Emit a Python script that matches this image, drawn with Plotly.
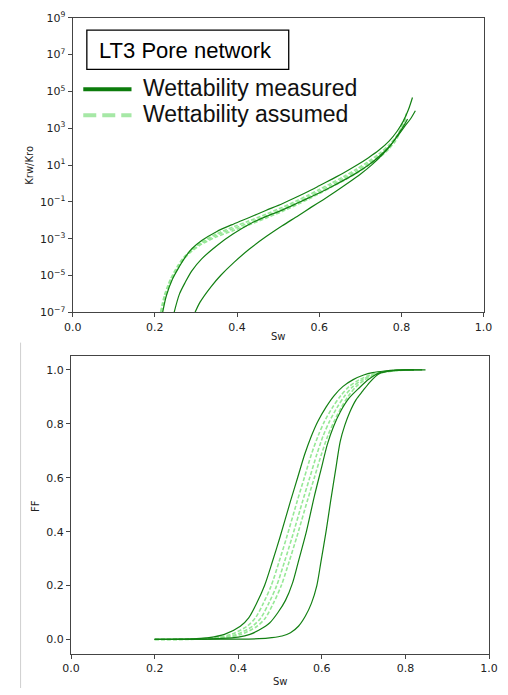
import plotly.graph_objects as go

# ---------------- data: top panel (Krw/Kro, given as log10 exponents) ----------------
sw_m1 = [0.219, 0.228, 0.243, 0.26, 0.274, 0.29, 0.314, 0.35, 0.392, 0.43, 0.47, 0.51, 0.549, 0.573, 0.60, 0.63, 0.66, 0.69, 0.72, 0.745, 0.77, 0.79, 0.805, 0.817, 0.827]
lg_m1 = [-7.0, -6.1, -5.19, -4.5, -4.0, -3.55, -3.1, -2.62, -2.2, -1.85, -1.47, -1.1, -0.7, -0.44, -0.13, 0.22, 0.58, 0.97, 1.4, 1.8, 2.3, 2.85, 3.4, 4.0, 4.67]
sw_m2 = [0.247, 0.26, 0.274, 0.29, 0.314, 0.353, 0.39, 0.431, 0.47, 0.51, 0.549, 0.573, 0.60, 0.63, 0.66, 0.69, 0.72, 0.745, 0.77, 0.79, 0.808, 0.822, 0.834]
lg_m2 = [-7.0, -6.0, -5.37, -4.75, -4.1, -3.34, -2.75, -2.2, -1.8, -1.45, -1.05, -0.8, -0.52, -0.18, 0.18, 0.56, 1.0, 1.45, 2.0, 2.55, 3.1, 3.5, 3.95]
sw_m3 = [0.298, 0.31, 0.337, 0.36, 0.392, 0.431, 0.47, 0.51, 0.549, 0.58, 0.61, 0.64, 0.67, 0.70, 0.73, 0.755, 0.775, 0.79, 0.805, 0.815]
lg_m3 = [-7.0, -6.45, -5.6, -5.0, -4.3, -3.55, -2.9, -2.3, -1.75, -1.3, -0.88, -0.44, 0.02, 0.5, 1.05, 1.6, 2.1, 2.6, 3.1, 3.5]

sw_a1 = [0.214, 0.223, 0.238, 0.255, 0.27, 0.29, 0.314, 0.35, 0.392, 0.43, 0.47, 0.51, 0.549, 0.573, 0.60, 0.63, 0.66, 0.69, 0.72, 0.745, 0.77, 0.79, 0.803, 0.812]
lg_a1 = [-7.0, -6.1, -5.2, -4.5, -4.02, -3.6, -3.18, -2.74, -2.35, -2.03, -1.67, -1.3, -0.9, -0.64, -0.33, 0.02, 0.38, 0.77, 1.2, 1.6, 2.1, 2.62, 3.2, 3.8]
sw_a2 = [0.216, 0.225, 0.24, 0.257, 0.272, 0.29, 0.314, 0.35, 0.392, 0.43, 0.47, 0.51, 0.549, 0.573, 0.60, 0.63, 0.66, 0.69, 0.72, 0.745, 0.77, 0.787, 0.80, 0.81]
lg_a2 = [-7.0, -6.15, -5.25, -4.55, -4.08, -3.68, -3.3, -2.9, -2.55, -2.25, -1.89, -1.52, -1.12, -0.86, -0.55, -0.2, 0.16, 0.55, 0.98, 1.38, 1.88, 2.35, 2.95, 3.5]
sw_a3 = [0.215, 0.224, 0.239, 0.256, 0.271, 0.29, 0.314, 0.35, 0.392, 0.43, 0.47, 0.51, 0.549, 0.573, 0.60, 0.63, 0.66, 0.69, 0.72, 0.745, 0.77, 0.789, 0.802, 0.811]
lg_a3 = [-7.0, -6.12, -5.22, -4.52, -4.05, -3.64, -3.24, -2.82, -2.45, -2.14, -1.77, -1.4, -1.0, -0.74, -0.43, -0.08, 0.28, 0.67, 1.1, 1.5, 2.0, 2.5, 3.1, 3.7]

# ---------------- data: bottom panel (FF) ----------------
sw_f1 = [0.20, 0.26, 0.30, 0.33, 0.367, 0.405, 0.425, 0.444, 0.463, 0.482, 0.50, 0.525, 0.542, 0.559, 0.575, 0.59, 0.61, 0.629, 0.65, 0.675, 0.70, 0.721, 0.75, 0.78, 0.82]
ff_f1 = [0.0, 0.001, 0.003, 0.007, 0.019, 0.049, 0.08, 0.134, 0.20, 0.29, 0.38, 0.513, 0.60, 0.687, 0.755, 0.808, 0.862, 0.904, 0.938, 0.964, 0.981, 0.99, 0.996, 0.999, 1.0]
sw_f2 = [0.20, 0.30, 0.36, 0.40, 0.428, 0.45, 0.475, 0.495, 0.513, 0.53, 0.544, 0.563, 0.582, 0.598, 0.613, 0.628, 0.644, 0.665, 0.69, 0.712, 0.736, 0.76, 0.80, 0.84]
ff_f2 = [0.0, 0.001, 0.004, 0.009, 0.019, 0.035, 0.061, 0.10, 0.145, 0.21, 0.29, 0.40, 0.531, 0.63, 0.723, 0.79, 0.844, 0.895, 0.934, 0.965, 0.988, 0.996, 1.0, 1.0]
sw_f3 = [0.20, 0.40, 0.45, 0.48, 0.505, 0.525, 0.544, 0.56, 0.575, 0.588, 0.598, 0.61, 0.621, 0.633, 0.644, 0.655, 0.667, 0.682, 0.698, 0.715, 0.736, 0.76, 0.80, 0.848]
ff_f3 = [0.0, 0.001, 0.003, 0.007, 0.013, 0.025, 0.049, 0.085, 0.134, 0.20, 0.29, 0.40, 0.513, 0.63, 0.735, 0.795, 0.844, 0.89, 0.922, 0.955, 0.985, 0.995, 1.0, 1.0]

sw_fa = [0.20, 0.30, 0.35, 0.383, 0.421, 0.441, 0.46, 0.479, 0.498, 0.516, 0.541, 0.558, 0.575, 0.591, 0.606, 0.626, 0.645, 0.665, 0.69, 0.715, 0.735, 0.76, 0.79, 0.82]
ff_fa = [0.0, 0.002, 0.008, 0.019, 0.049, 0.08, 0.134, 0.20, 0.29, 0.38, 0.513, 0.60, 0.687, 0.755, 0.808, 0.862, 0.904, 0.938, 0.964, 0.981, 0.99, 0.996, 0.999, 1.0]
sw_fb = [0.20, 0.30, 0.36, 0.396, 0.434, 0.454, 0.473, 0.492, 0.511, 0.529, 0.554, 0.571, 0.588, 0.603, 0.618, 0.637, 0.655, 0.674, 0.697, 0.72, 0.74, 0.765, 0.79, 0.82]
ff_fb = [0.0, 0.0015, 0.008, 0.019, 0.049, 0.08, 0.134, 0.20, 0.29, 0.38, 0.513, 0.60, 0.687, 0.755, 0.808, 0.862, 0.904, 0.938, 0.964, 0.981, 0.99, 0.996, 0.999, 1.0]
sw_fc = [0.20, 0.30, 0.37, 0.407, 0.445, 0.465, 0.484, 0.503, 0.522, 0.54, 0.565, 0.582, 0.599, 0.614, 0.629, 0.647, 0.664, 0.682, 0.703, 0.725, 0.745, 0.77, 0.795, 0.82]
ff_fc = [0.0, 0.001, 0.008, 0.019, 0.049, 0.08, 0.134, 0.20, 0.29, 0.38, 0.513, 0.60, 0.687, 0.755, 0.808, 0.862, 0.904, 0.938, 0.964, 0.981, 0.99, 0.996, 0.999, 1.0]

x_ticks = [0.0, 0.2, 0.4, 0.6, 0.8, 1.0]
krw_exps = [-7, -5, -3, -1, 1, 3, 5, 7, 9]
ff_ticks = [0.0, 0.2, 0.4, 0.6, 0.8, 1.0]

DARK = "#138013"
LIGHT = "#97e897"
AX = "#444444"
TICKFONT = dict(family="DejaVu Sans", size=11, color="#222222")

fig = go.Figure()

measured_top = [(sw_m1, lg_m1), (sw_m2, lg_m2), (sw_m3, lg_m3)]
assumed_top = [(sw_a1, lg_a1), (sw_a2, lg_a2), (sw_a3, lg_a3)]
for sw, lg in assumed_top:
    fig.add_trace(go.Scatter(x=sw, y=[10 ** v for v in lg], mode="lines", xaxis="x", yaxis="y",
                             line=dict(color=LIGHT, width=1.6, dash="4px,2px", shape="spline", smoothing=0.8),
                             showlegend=False, hoverinfo="skip"))
for sw, lg in measured_top:
    fig.add_trace(go.Scatter(x=sw, y=[10 ** v for v in lg], mode="lines", xaxis="x", yaxis="y",
                             line=dict(color=DARK, width=1.2, shape="spline", smoothing=0.8),
                             showlegend=False, hoverinfo="skip"))

assumed_bot = [(sw_fa, ff_fa), (sw_fb, ff_fb), (sw_fc, ff_fc)]
measured_bot = [(sw_f1, ff_f1), (sw_f2, ff_f2), (sw_f3, ff_f3)]
for sw, ff in assumed_bot:
    fig.add_trace(go.Scatter(x=sw, y=ff, mode="lines", xaxis="x2", yaxis="y2",
                             line=dict(color=LIGHT, width=1.6, dash="4px,2px", shape="spline", smoothing=0.8),
                             showlegend=False, hoverinfo="skip"))
for sw, ff in measured_bot:
    fig.add_trace(go.Scatter(x=sw, y=ff, mode="lines", xaxis="x2", yaxis="y2",
                             line=dict(color=DARK, width=1.2, shape="spline", smoothing=0.8),
                             showlegend=False, hoverinfo="skip"))

W, H = 508, 695
def px(x):
    return x / W
def py(y):
    return 1 - y / H

axis_common = dict(showline=True, linecolor=AX, linewidth=1.3, mirror=True, showgrid=False, zeroline=False,
                   ticks="outside", ticklen=4, tickwidth=1, tickcolor=AX, tickfont=TICKFONT)

fig.update_layout(
    width=W, height=H, margin=dict(l=0, r=0, t=0, b=0),
    paper_bgcolor="white", plot_bgcolor="white", showlegend=False,
    xaxis=dict(domain=[px(66), px(492)], range=[0, 1], tickvals=x_ticks, tickformat=".1f",
               anchor="y", **axis_common),
    yaxis=dict(domain=[py(311), py(10)], type="log", range=[-7, 9],
               tickvals=[10 ** e for e in krw_exps],
               ticktext=["10<sup>%s</sup>" % (str(e).replace("-", "\u2212")) for e in krw_exps],
               anchor="x", **axis_common),
    xaxis2=dict(domain=[px(64.3), px(497.7)], range=[0, 1], tickvals=x_ticks, tickformat=".1f",
                anchor="y2", **axis_common),
    yaxis2=dict(domain=[py(660), py(355.3)], range=[-0.053, 1.053], tickvals=ff_ticks, tickformat=".1f",
                anchor="x2", **axis_common),
)

shapes = [
    dict(type="rect", xref="paper", yref="paper", x0=px(80.7), x1=px(290), y0=py(62.7), y1=py(22.7),
         line=dict(color="black", width=1.3), fillcolor="white"),
    dict(type="line", xref="paper", yref="paper", x0=px(77), x1=px(127), y0=py(83), y1=py(83),
         line=dict(color="#0c7c0c", width=4)),
    dict(type="line", xref="paper", yref="paper", x0=px(77), x1=px(127), y0=py(109.5), y1=py(109.5),
         line=dict(color="#a6e8a6", width=4, dash="13px,6px")),
    dict(type="line", xref="paper", yref="paper", x0=px(12), x1=px(12), y0=py(342), y1=0,
         line=dict(color="#cfcfcf", width=1)),
]
fig.update_layout(shapes=shapes)

ann = [
    dict(text="LT3 Pore network", x=px(91), y=py(43), xanchor="left", yanchor="middle",
         font=dict(family="Liberation Sans", size=22, color="black")),
    dict(text="Wettability measured", x=px(137), y=py(82), xanchor="left", yanchor="middle",
         font=dict(family="Liberation Sans", size=23, color="#111111")),
    dict(text="Wettability assumed", x=px(137), y=py(108), xanchor="left", yanchor="middle",
         font=dict(family="Liberation Sans", size=23, color="#111111")),
    dict(text="Sw", x=px(279), y=py(336), xanchor="center", yanchor="middle",
         font=dict(family="DejaVu Sans", size=10, color="#222222")),
    dict(text="Sw", x=px(281), y=py(688), xanchor="center", yanchor="middle",
         font=dict(family="DejaVu Sans", size=10, color="#222222")),
    dict(text="Krw/Kro", x=px(21), y=py(161), xanchor="center", yanchor="middle", textangle=-90,
         font=dict(family="DejaVu Sans", size=10, color="#222222")),
    dict(text="FF", x=px(27), y=py(509), xanchor="center", yanchor="middle", textangle=-90,
         font=dict(family="DejaVu Sans", size=10, color="#222222")),
]
for a in ann:
    a.update(xref="paper", yref="paper", showarrow=False)
fig.update_layout(annotations=ann)

fig.write_html("out.html")
